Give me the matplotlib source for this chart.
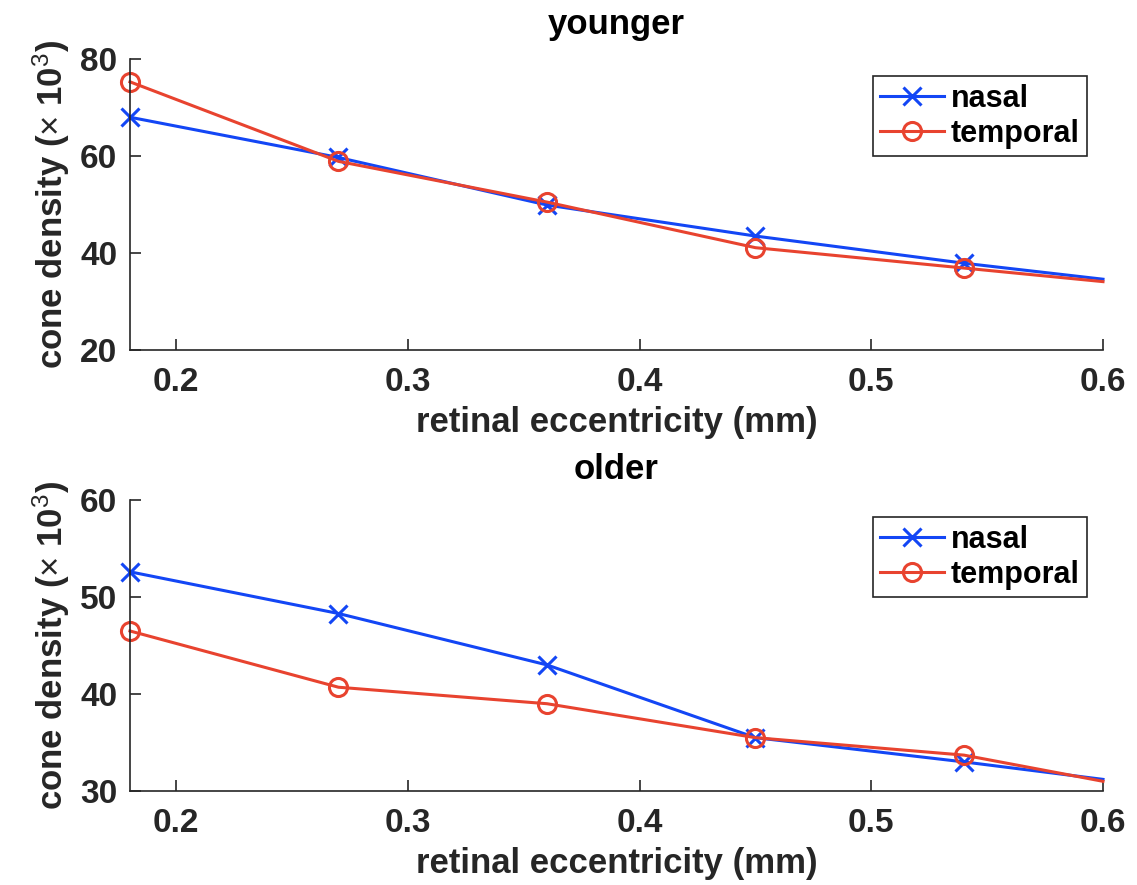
import matplotlib
matplotlib.use("Agg")
import matplotlib.pyplot as plt

plt.rcParams['font.family'] = ['Liberation Sans', 'DejaVu Sans']
plt.rcParams['font.weight'] = 'bold'
plt.rcParams['axes.labelweight'] = 'bold'
plt.rcParams['axes.titleweight'] = 'bold'
plt.rcParams['mathtext.fontset'] = 'custom'
plt.rcParams['mathtext.rm'] = 'Liberation Sans:weight=normal'
plt.rcParams['mathtext.default'] = 'rm'

# eccentricity (mm); the line runs on to the 0.6 axis edge with no marker there
ecc = [0.18, 0.27, 0.36, 0.45, 0.54, 0.6]

younger_nasal = [68.0, 59.7, 49.9, 43.5, 37.9, 34.6]
younger_temporal = [75.3, 58.9, 50.5, 41.1, 36.9, 34.1]
older_nasal = [52.6, 48.3, 43.0, 35.5, 33.0, 31.2]
older_temporal = [46.5, 40.7, 39.0, 35.5, 33.7, 31.0]

xticks = [0.2, 0.3, 0.4, 0.5, 0.6]
titles = ["younger", "older"]
ylims = [(20, 80), (30, 60)]
yticks = [[20, 40, 60, 80], [30, 40, 50, 60]]

blue = '#1346f5'
red = '#e8432f'
txt = '#262626'

fig = plt.figure(figsize=(11.37, 8.85), dpi=100)
positions = [[0.1143, 0.6045, 0.8558, 0.3288],
             [0.1143, 0.1062, 0.8558, 0.3288]]
series = [(younger_nasal, younger_temporal), (older_nasal, older_temporal)]
title_pads = [18, 15]

for i in range(2):
  ax = fig.add_axes(positions[i])
  nasal, temporal = series[i]
  ax.plot(ecc, nasal, color=blue, lw=2.2, marker='x', ms=13, mew=2.2,
          markevery=range(5), clip_on=False, label='nasal')
  ax.plot(ecc, temporal, color=red, lw=2.2, marker='o', ms=13, mew=2.2,
          mfc='none', markevery=range(5), clip_on=False, label='temporal')
  ax.set_xlim(0.18, 0.6)
  ax.set_ylim(*ylims[i])
  ax.set_xticks(xticks)
  ax.set_xticklabels(["0.2", "0.3", "0.4", "0.5", "0.6"])
  ax.set_yticks(yticks[i])
  ax.spines['top'].set_visible(False)
  ax.spines['right'].set_visible(False)
  for s in ['left', 'bottom']:
    ax.spines[s].set_color(txt)
    ax.spines[s].set_linewidth(1.2)
  ax.tick_params(direction='in', length=8, width=1.2, colors=txt,
                 labelsize=24, pad=9)
  ax.tick_params(axis='x', pad=12)
  ax.set_title(titles[i], fontsize=25, pad=title_pads[i])
  ax.set_xlabel("retinal eccentricity (mm)", fontsize=25, color=txt, labelpad=6)
  ax.set_ylabel(r"cone density ($\times$ 10$^{3}$)", fontsize=25, color=txt,
                labelpad=6)
  leg = ax.legend(loc='upper right', bbox_to_anchor=(0.9835, 0.94), fontsize=22,
                  fancybox=False, framealpha=1, handlelength=2.1,
                  handletextpad=0.2, borderpad=0.25, labelspacing=0.15,
                  borderaxespad=0)
  leg.get_frame().set_edgecolor(txt)
  leg.get_frame().set_linewidth(1.2)

fig.savefig("out.png", dpi=100)
